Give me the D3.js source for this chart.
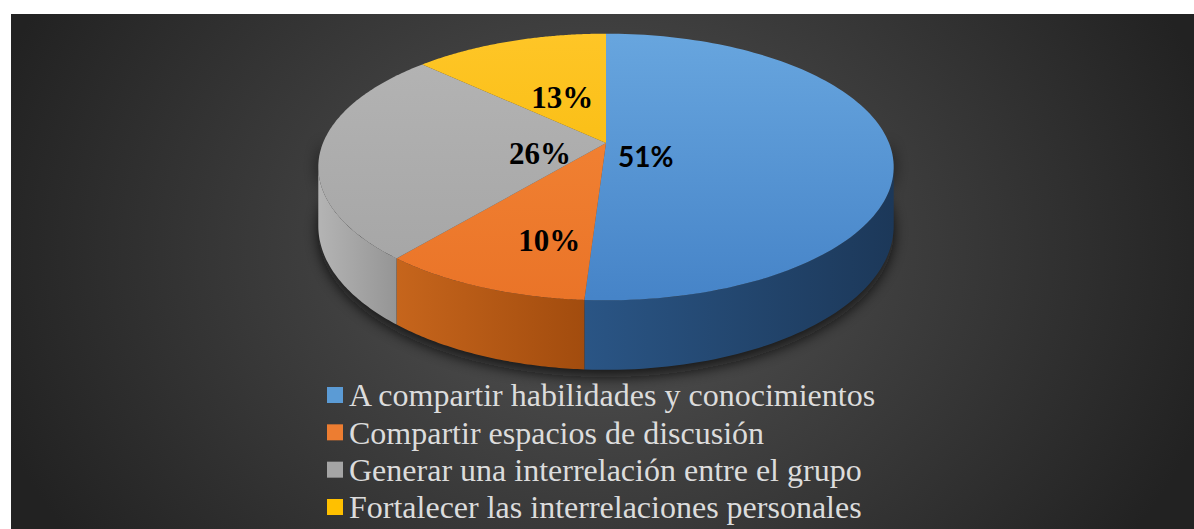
<!DOCTYPE html>
<html>
<head>
<meta charset="utf-8">
<script src="https://cdn.jsdelivr.net/npm/d3@7"></script>
<style>
  body { margin: 0; background: #fff; }
  svg { display: block; }
</style>
</head>
<body>
<svg id="chart"></svg>
<script>
// data
var categories = [
  "A compartir habilidades y conocimientos",
  "Compartir espacios de discusión",
  "Generar una interrelación entre el grupo",
  "Fortalecer las interrelaciones personales"
];
var values = [51, 10, 26, 13];
var labels = ["51%", "10%", "26%", "13%"];

// colours per slice: top face light/dark, side light/dark
var topColors = [["#6aa8e0", "#4684c8"], ["#f68a3a", "#ea7428"], ["#b6b6b6", "#a4a4a4"], ["#ffc72a", "#f5b600"]];
var sideColors = [["#2a5585", "#1c3859"], ["#c6651c", "#a24c0e"], ["#b4b4b4", "#959595"], ["#c99a00", "#e0ad00"]];
var legendColors = ["#5b9bd5", "#ed7d31", "#a5a5a5", "#ffc000"];
// label placement: fraction of radius along the mid angle, extra y shift
var labelPos = [[0.14, 14], [0.5, 32], [0.233, 8], [0.415, 0]];
var labelFonts = ["Lato", "Liberation Serif", "Liberation Serif", "Liberation Serif"];

var width = 1194, height = 529;
var cx = 606, cy = 143, R = 283, Ry = 129, depth = 57, persp = 0.18;

var svg = d3.select("#chart").attr("width", width).attr("height", height);
var defs = svg.append("defs");

var bg = defs.append("radialGradient").attr("id", "bg")
  .attr("gradientUnits", "userSpaceOnUse")
  .attr("cx", 600).attr("cy", 250).attr("r", 640)
  .attr("gradientTransform", "translate(600,250) scale(1,0.8) translate(-600,-250)");
bg.append("stop").attr("offset", "0%").attr("stop-color", "#555555");
bg.append("stop").attr("offset", "100%").attr("stop-color", "#222222");

var shadow = defs.append("filter").attr("id", "shadow")
  .attr("x", "-20%").attr("y", "-20%").attr("width", "140%").attr("height", "140%");
shadow.append("feGaussianBlur").attr("stdDeviation", 7);

svg.append("rect").attr("x", 11).attr("y", 14)
  .attr("width", width - 11).attr("height", height - 14)
  .attr("fill", "url(#bg)");

var pie = d3.pie().sort(null).value(d => d);
var arcs = pie(values);

// perspective projection of a point on the disc (angle clockwise from 12 o'clock)
function pt(a, f, dz) {
  var u = f * Math.sin(a), v = -f * Math.cos(a);
  var w = 1 / (1 - persp * v);
  return [cx + R * u * w, cy + (Ry * v + (dz || 0)) * w];
}

function arcPts(a0, a1, dz, steps) {
  var pts = [];
  for (var i = 0; i <= steps; i++) {
    pts.push(pt(a0 + (a1 - a0) * i / steps, 1, dz));
  }
  return pts;
}

var line = d3.line();
var sideStart = Math.acos(-persp), sideEnd = 2 * Math.PI - Math.acos(-persp);

// shadow under the pie
svg.append("path")
  .attr("d", line(arcPts(sideStart - 0.2, sideEnd + 0.2, depth + 6, 80)
    .concat(arcPts(sideEnd + 0.2, sideStart - 0.2, 0, 80))) + "Z")
  .attr("fill", "#0c0c0c").attr("opacity", 0.8)
  .attr("filter", "url(#shadow)");

// gradients
arcs.forEach(function(d, i) {
  var g = defs.append("linearGradient").attr("id", "top" + i)
    .attr("gradientUnits", "userSpaceOnUse")
    .attr("x1", 0).attr("y1", cy - Ry).attr("x2", 0).attr("y2", cy + Ry * 1.2);
  g.append("stop").attr("offset", "0%").attr("stop-color", topColors[i][0]);
  g.append("stop").attr("offset", "100%").attr("stop-color", topColors[i][1]);

  var s0 = Math.max(d.startAngle, sideStart), s1 = Math.min(d.endAngle, sideEnd);
  var xa = pt(s1, 1)[0], xb = pt(s0, 1)[0];
  var s = defs.append("linearGradient").attr("id", "side" + i)
    .attr("gradientUnits", "userSpaceOnUse")
    .attr("x1", Math.min(xa, xb)).attr("y1", 0).attr("x2", Math.max(xa, xb)).attr("y2", 0);
  s.append("stop").attr("offset", "0%").attr("stop-color", sideColors[i][0]);
  s.append("stop").attr("offset", "100%").attr("stop-color", sideColors[i][1]);
});

// visible outer wall
svg.append("g").selectAll("path")
  .data(arcs.filter(d => d.endAngle > sideStart && d.startAngle < sideEnd))
  .enter()
  .append("path")
    .attr("d", function(d) {
      var a0 = Math.max(d.startAngle, sideStart), a1 = Math.min(d.endAngle, sideEnd);
      return line(arcPts(a0, a1, 0, 60).concat(arcPts(a1, a0, depth, 60))) + "Z";
    })
    .attr("fill", d => "url(#side" + d.index + ")");

// top faces
svg.append("g").selectAll("path")
  .data(arcs)
  .enter()
  .append("path")
    .attr("d", d => line([[cx, cy]].concat(arcPts(d.startAngle, d.endAngle, 0, 120))) + "Z")
    .attr("fill", d => "url(#top" + d.index + ")");

// data labels
svg.append("g").selectAll("text")
  .data(arcs)
  .enter()
  .append("text")
    .text((d, i) => labels[i])
    .attr("x", (d, i) => pt((d.startAngle + d.endAngle) / 2, labelPos[i][0])[0])
    .attr("y", (d, i) => pt((d.startAngle + d.endAngle) / 2, labelPos[i][0])[1] + labelPos[i][1])
    .attr("dy", "0.35em")
    .style("text-anchor", "middle")
    .style("font-family", (d, i) => labelFonts[i])
    .style("font-weight", "bold")
    .style("font-size", (d, i) => i === 0 ? "28px" : "31px")
    .attr("fill", "#000");

// legend
var legendY = d3.scalePoint().domain(categories).range([395, 507]);
var legend = svg.append("g").selectAll("g")
  .data(categories)
  .enter()
  .append("g")
    .attr("transform", d => "translate(327," + legendY(d) + ")");

legend.append("rect")
  .attr("x", 0).attr("y", -8).attr("width", 16).attr("height", 16)
  .attr("fill", (d, i) => legendColors[i]);

legend.append("text")
  .text(d => d)
  .attr("x", 22)
  .attr("dy", "0.35em")
  .style("font-family", "Liberation Serif")
  .style("font-size", "32px")
  .attr("fill", "#dcdcdc");
</script>
</body>
</html>
